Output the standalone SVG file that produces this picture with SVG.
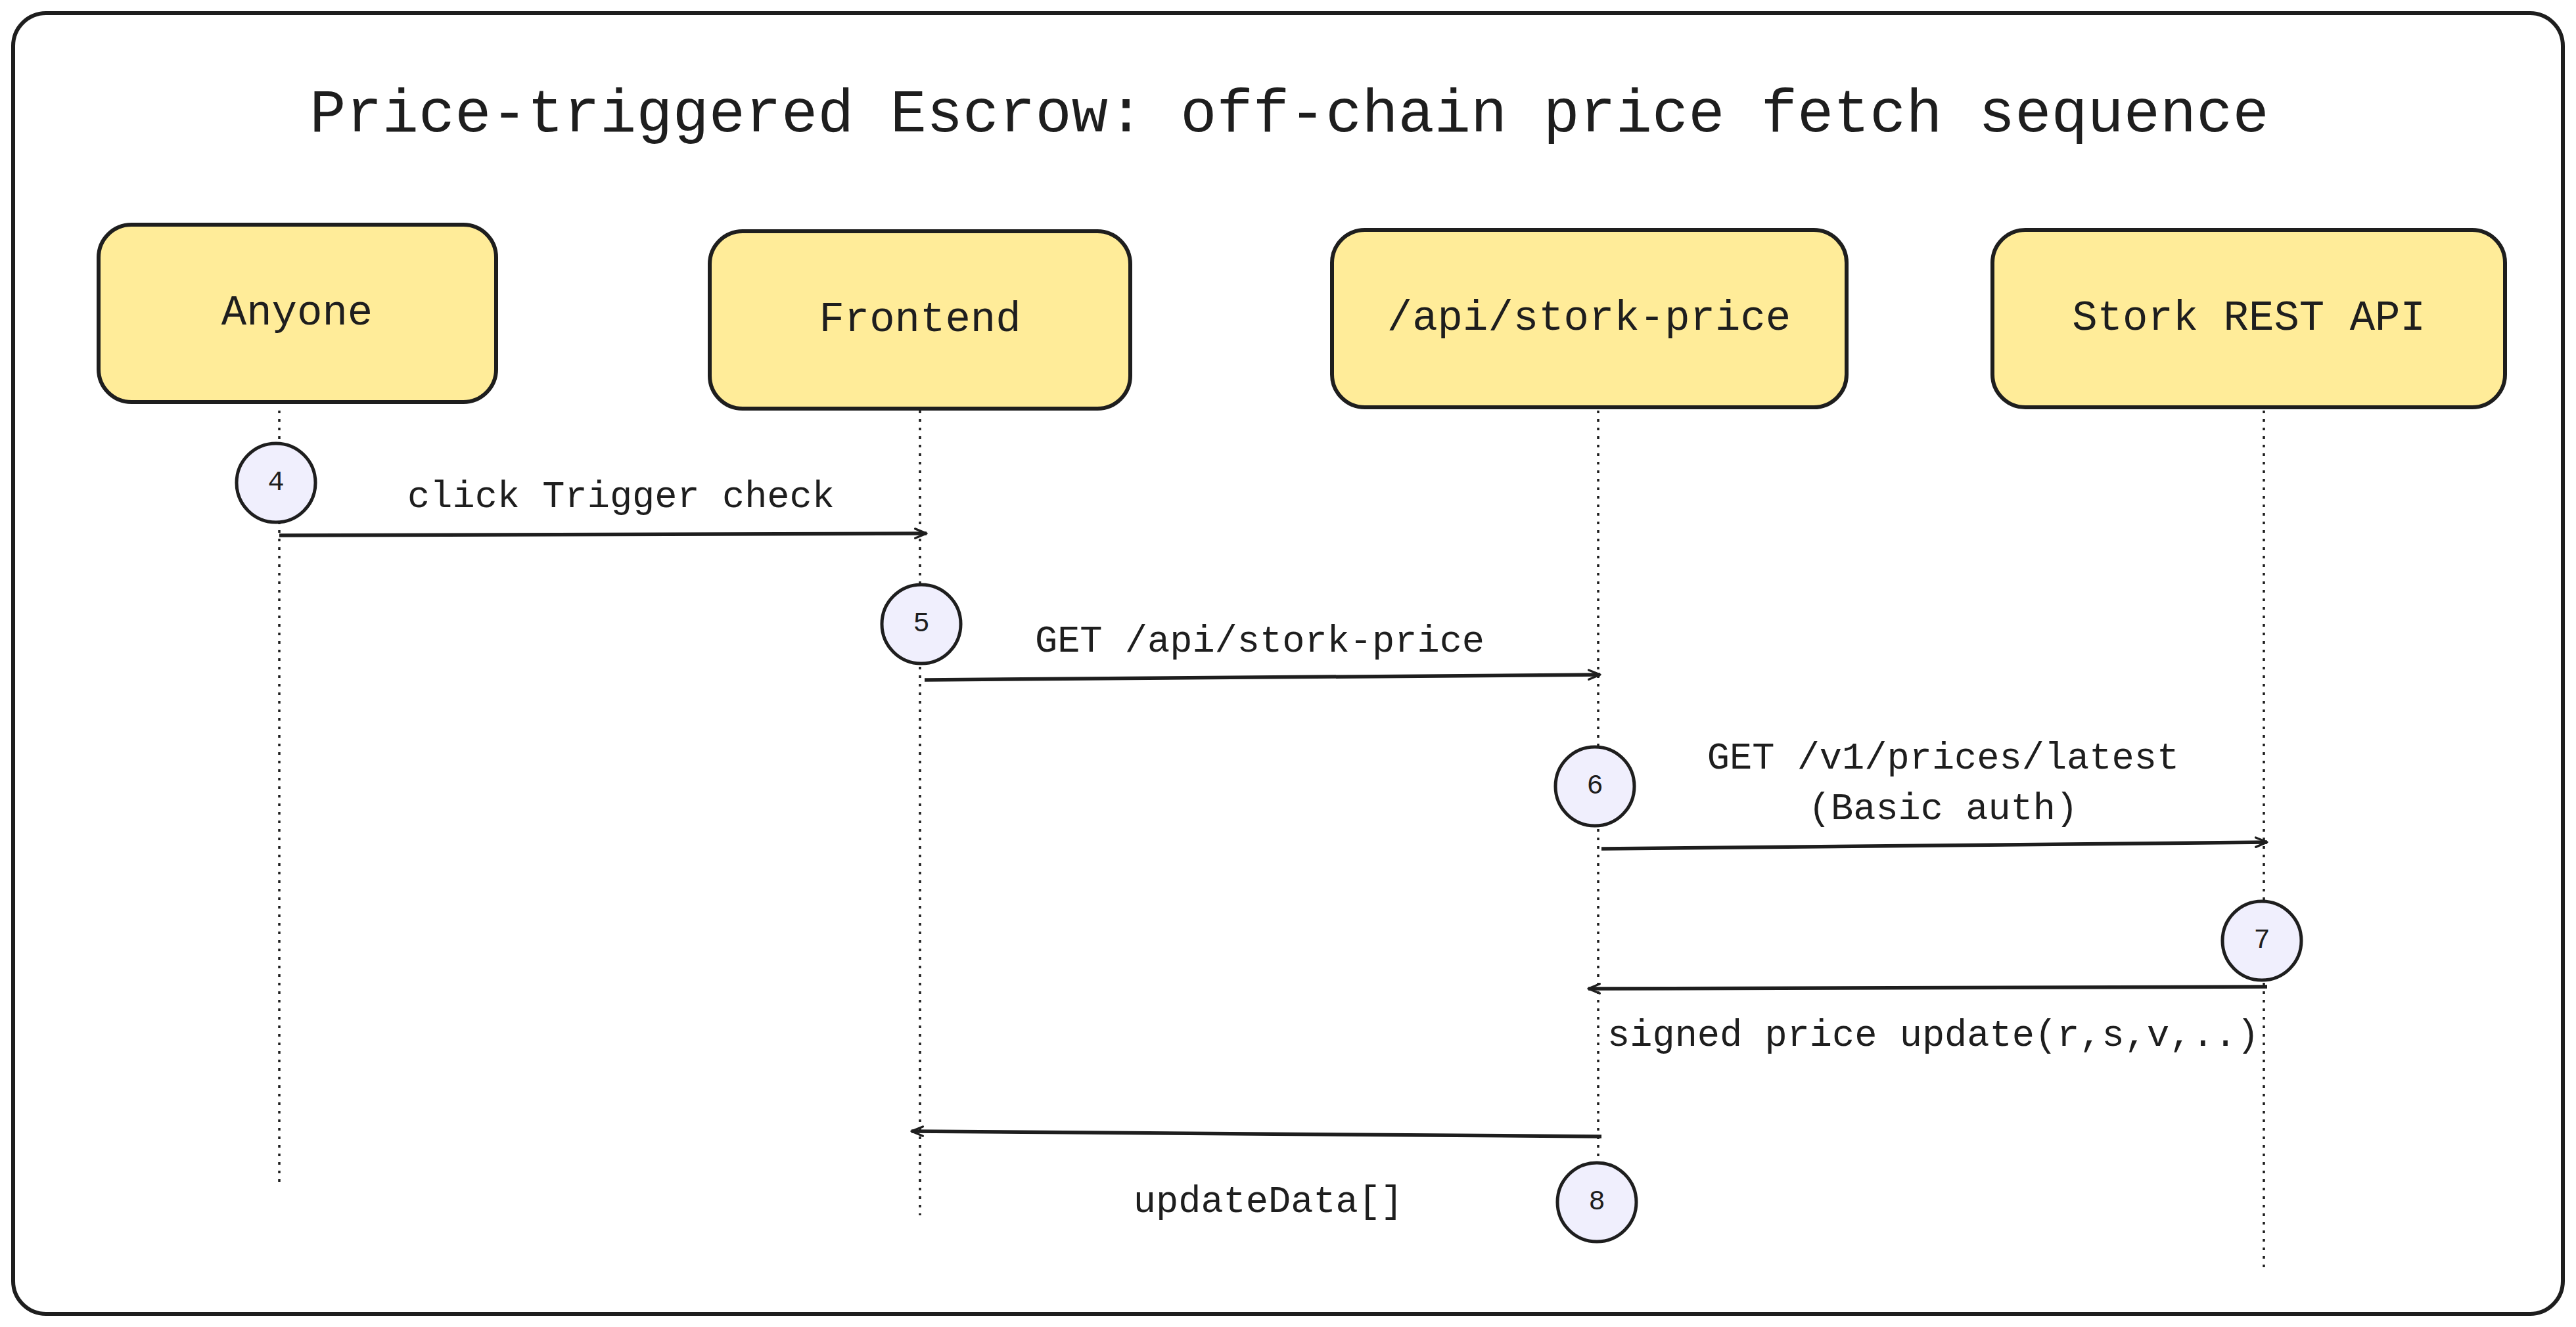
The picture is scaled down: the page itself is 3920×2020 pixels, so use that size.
<svg xmlns="http://www.w3.org/2000/svg" width="3920" height="2020" viewBox="0 0 3920 2020">
<style>
text{font-family:"Liberation Mono","DejaVu Sans Mono",monospace;fill:#1e1e1e;text-anchor:middle;dominant-baseline:central}
.node rect{fill:#ffec99;stroke:#1e1e1e;stroke-width:6}
.node text{font-size:64px}
.life{stroke:#1e1e1e;stroke-width:3.5;stroke-dasharray:4 9;fill:none}
.msg{stroke:#1e1e1e;stroke-width:5.5;fill:none;marker-end:url(#ah)}
.lbl{font-size:57px}
.num circle{fill:#f0effd;stroke:#1e1e1e;stroke-width:5}
.num text{font-size:42px}
</style>
<defs>
<marker id="ah" viewBox="0 0 20 20" refX="18" refY="10" markerWidth="12" markerHeight="12" markerUnits="userSpaceOnUse" orient="auto" style="overflow:visible">
<path d="M-40,-14 L18,10 L-40,34" transform="scale(0.5) translate(18,10)" fill="none" stroke="#1e1e1e" stroke-width="11" stroke-linecap="round" stroke-linejoin="round"/>
</marker>
</defs>
<rect x="0" y="0" width="3920" height="2020" fill="#fff"/>
<rect x="20" y="20" width="3880" height="1980" rx="50" fill="#fff" stroke="#1e1e1e" stroke-width="6"/>
<text x="1962" y="175" font-size="92">Price-triggered Escrow: off-chain price fetch sequence</text>
<g id="lifelines">
<line class="life" x1="425" y1="625" x2="425" y2="1805"/>
<line class="life" x1="1400" y1="625" x2="1400" y2="1850"/>
<line class="life" x1="2432" y1="625" x2="2432" y2="1855"/>
<line class="life" x1="3445" y1="625" x2="3445" y2="1937"/>
</g>
<g id="n-anyone" class="node"><rect x="150" y="342" width="605" height="270" rx="50"/><text x="452" y="477">Anyone</text></g>
<g id="n-frontend" class="node"><rect x="1080" y="352" width="640" height="270" rx="50"/><text x="1400" y="487">Frontend</text></g>
<g id="n-api" class="node"><rect x="2027" y="350" width="783" height="270" rx="50"/><text x="2418" y="485">/api/stork-price</text></g>
<g id="n-stork" class="node"><rect x="3032" y="350" width="780" height="270" rx="50"/><text x="3422" y="485">Stork REST API</text></g>
<g id="connectors">
<path class="msg" d="M425,815 L1410,812"/>
<path class="msg" d="M1407,1035 L2435,1027"/>
<path class="msg" d="M2437,1292 L3450,1282"/>
<path class="msg" d="M3450,1502 L2417,1505"/>
<path class="msg" d="M2437,1730 L1387,1722"/>
<text class="lbl" x="945" y="757">click Trigger check</text>
<text class="lbl" x="1917" y="977">GET /api/stork-price</text>
<text class="lbl" x="2957" y="1155">GET /v1/prices/latest</text>
<text class="lbl" x="2957" y="1232">(Basic auth)</text>
<text class="lbl" x="2942" y="1577">signed price update(r,s,v,..)</text>
<text class="lbl" x="1930" y="1830">updateData[]</text>
</g>
<g id="step4" class="num"><circle cx="420" cy="735" r="60"/><text x="420" y="735">4</text></g>
<g id="step5" class="num"><circle cx="1402" cy="950" r="60"/><text x="1402" y="950">5</text></g>
<g id="step6" class="num"><circle cx="2427" cy="1197" r="60"/><text x="2427" y="1197">6</text></g>
<g id="step7" class="num"><circle cx="3442" cy="1432" r="60"/><text x="3442" y="1432">7</text></g>
<g id="step8" class="num"><circle cx="2430" cy="1830" r="60"/><text x="2430" y="1830">8</text></g>
</svg>
